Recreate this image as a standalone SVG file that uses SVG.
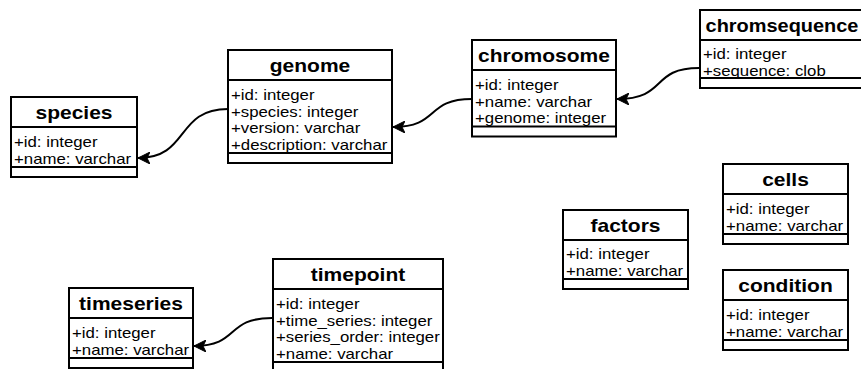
<svg xmlns="http://www.w3.org/2000/svg" width="861" height="369" viewBox="0 0 861 369">
<style>
.box{fill:#fff;stroke:#000;stroke-width:2}
.ln{stroke:#000;stroke-width:2;fill:none}
.title{font-family:"Liberation Sans",Arial,sans-serif;font-weight:bold;font-size:17.5px;text-anchor:middle;fill:#000}
.attr{font-family:"Liberation Sans",Arial,sans-serif;font-size:14px;fill:#000}
.edge{stroke:#000;stroke-width:2;fill:none;marker-end:url(#arr)}
</style>
<defs>
<marker id="arr" markerUnits="userSpaceOnUse" markerWidth="14" markerHeight="12" refX="12" refY="6" orient="auto" viewBox="0 0 14 12">
<path d="M0,0 L12,6 L0,12 L3,6 Z" fill="#000" stroke="#000" stroke-width="1"/>
</marker>
</defs>

<g id="species">
<rect class="box" x="11" y="97" width="126" height="80"/>
<line class="ln" x1="11" y1="127" x2="137" y2="127"/>
<line class="ln" x1="11" y1="167" x2="137" y2="167"/>
<text class="title" transform="translate(74 118.5) scale(1.2 1)">species</text>
<text class="attr" transform="translate(14 0) scale(1.2 1)"><tspan x="0" y="147.5">+id: integer</tspan><tspan x="0" y="164">+name: varchar</tspan></text>
</g>

<g id="genome">
<rect class="box" x="228" y="50" width="164" height="113"/>
<line class="ln" x1="228" y1="80" x2="392" y2="80"/>
<line class="ln" x1="228" y1="153" x2="392" y2="153"/>
<text class="title" transform="translate(310 71.5) scale(1.2 1)">genome</text>
<text class="attr" transform="translate(231 0) scale(1.2 1)"><tspan x="0" y="100.5">+id: integer</tspan><tspan x="0" y="117">+species: integer</tspan><tspan x="0" y="133.5">+version: varchar</tspan><tspan x="0" y="150">+description: varchar</tspan></text>
</g>

<g id="chromosome">
<rect class="box" x="472" y="40" width="144" height="96.5"/>
<line class="ln" x1="472" y1="70" x2="616" y2="70"/>
<line class="ln" x1="472" y1="126.5" x2="616" y2="126.5"/>
<text class="title" transform="translate(544 61.5) scale(1.2 1)">chromosome</text>
<text class="attr" transform="translate(475 0) scale(1.2 1)"><tspan x="0" y="90.5">+id: integer</tspan><tspan x="0" y="107">+name: varchar</tspan><tspan x="0" y="123.5">+genome: integer</tspan></text>
</g>

<g id="chromsequence">
<rect class="box" x="700" y="10" width="162" height="78"/>
<line class="ln" x1="700" y1="40" x2="862" y2="40"/>
<line class="ln" x1="700" y1="78" x2="862" y2="78"/>
<text class="title" transform="translate(782 31.5) scale(1.14 1)">chromsequence</text>
<text class="attr" transform="translate(703 0) scale(1.2 1)"><tspan x="0" y="59.5">+id: integer</tspan><tspan x="0" y="76">+sequence: clob</tspan></text>
</g>

<g id="factors">
<rect class="box" x="563" y="210" width="125" height="79"/>
<line class="ln" x1="563" y1="240" x2="688" y2="240"/>
<line class="ln" x1="563" y1="279" x2="688" y2="279"/>
<text class="title" transform="translate(625.5 231.5) scale(1.2 1)">factors</text>
<text class="attr" transform="translate(566 0) scale(1.2 1)"><tspan x="0" y="259.5">+id: integer</tspan><tspan x="0" y="276">+name: varchar</tspan></text>
</g>

<g id="cells">
<rect class="box" x="723" y="164" width="125" height="80"/>
<line class="ln" x1="723" y1="194" x2="848" y2="194"/>
<line class="ln" x1="723" y1="234" x2="848" y2="234"/>
<text class="title" transform="translate(785.5 185.5) scale(1.2 1)">cells</text>
<text class="attr" transform="translate(726 0) scale(1.2 1)"><tspan x="0" y="214.5">+id: integer</tspan><tspan x="0" y="231">+name: varchar</tspan></text>
</g>

<g id="condition">
<rect class="box" x="723" y="270" width="125" height="80"/>
<line class="ln" x1="723" y1="300" x2="848" y2="300"/>
<line class="ln" x1="723" y1="340" x2="848" y2="340"/>
<text class="title" transform="translate(785.5 291.5) scale(1.2 1)">condition</text>
<text class="attr" transform="translate(726 0) scale(1.2 1)"><tspan x="0" y="320.5">+id: integer</tspan><tspan x="0" y="337">+name: varchar</tspan></text>
</g>

<g id="timeseries">
<rect class="box" x="69" y="288" width="124" height="80"/>
<line class="ln" x1="69" y1="318" x2="193" y2="318"/>
<line class="ln" x1="69" y1="358" x2="193" y2="358"/>
<text class="title" transform="translate(131 309.5) scale(1.2 1)">timeseries</text>
<text class="attr" transform="translate(72 0) scale(1.2 1)"><tspan x="0" y="338.5">+id: integer</tspan><tspan x="0" y="355">+name: varchar</tspan></text>
</g>

<g id="timepoint">
<rect class="box" x="273" y="259" width="170" height="113"/>
<line class="ln" x1="273" y1="289" x2="443" y2="289"/>
<line class="ln" x1="273" y1="362" x2="443" y2="362"/>
<text class="title" transform="translate(358 280.5) scale(1.2 1)">timepoint</text>
<text class="attr" transform="translate(276 0) scale(1.2 1)"><tspan x="0" y="309.5">+id: integer</tspan><tspan x="0" y="326">+time_series: integer</tspan><tspan x="0" y="342.5">+series_order: integer</tspan><tspan x="0" y="359">+name: varchar</tspan></text>
</g>

<g id="connectors">
<path class="edge" d="M228,109 C175,109 190,158 138,158"/>
<path class="edge" d="M472,99 C425,99 440,127 393,127"/>
<path class="edge" d="M699,68 C650,68 668,99 617,99"/>
<path class="edge" d="M272,318 C225,318 240,346 194,346"/>
</g>
</svg>
